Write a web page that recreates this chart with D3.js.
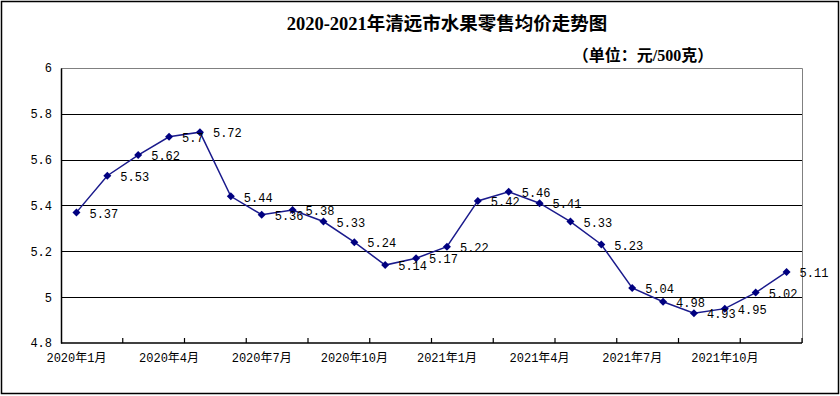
<!DOCTYPE html>
<html><head><meta charset="utf-8">
<script src="https://cdn.jsdelivr.net/npm/d3@7"></script>
<style>body{margin:0;background:#fff}svg{display:block}</style>
</head><body>
<script>
const titleText = "2020-2021年清远市水果零售均价走势图";
const unitText = "（单位：元/500克）";
const months = ["2020年1月","2020年2月","2020年3月","2020年4月","2020年5月","2020年6月","2020年7月","2020年8月","2020年9月","2020年10月","2020年11月","2020年12月",
"2021年1月","2021年2月","2021年3月","2021年4月","2021年5月","2021年6月","2021年7月","2021年8月","2021年9月","2021年10月","2021年11月","2021年12月"];
const prices = [5.37,5.53,5.62,5.7,5.72,5.44,5.36,5.38,5.33,5.24,5.14,5.17,5.22,5.42,5.46,5.41,5.33,5.23,5.04,4.98,4.93,4.95,5.02,5.11];
const priceLabels = ["5.37","5.53","5.62","5.7","5.72","5.44","5.36","5.38","5.33","5.24","5.14","5.17","5.22","5.42","5.46","5.41","5.33","5.23","5.04","4.98","4.93","4.95","5.02","5.11"];
const yTicks = [4.8,5,5.2,5.4,5.6,5.8,6];
const yTickLabels = ["4.8","5","5.2","5.4","5.6","5.8","6"];

const W=840,H=396;
const L=61,R=802,T=68,B=343;
const svg=d3.select("body").append("svg").attr("width",W).attr("height",H);
svg.append("rect").attr("x",1.5).attr("y",1.5).attr("width",W-3).attr("height",H-4)
  .attr("fill","#fff").attr("stroke","#000").attr("stroke-width",1.5);

const x=d3.scaleBand().domain(months).range([L,R]).paddingInner(0).paddingOuter(0);
const y=d3.scaleLinear().domain([4.8,6]).range([B,T]);
const mono="'Liberation Mono','DejaVu Sans Mono','Noto Sans CJK SC',monospace";

// plot border (grey) top & right
svg.append("path").attr("d",`M${L},${T+0.5}H${R+0.5}V${B}`).attr("fill","none").attr("stroke","#808080").attr("stroke-width",1);
// gridlines
svg.append("g").selectAll("line").data(yTicks.filter(v=>v>4.8&&v<6)).join("line")
  .attr("x1",L).attr("x2",R).attr("y1",d=>Math.round(y(d))+0.5).attr("y2",d=>Math.round(y(d))+0.5)
  .attr("stroke","#000").attr("stroke-width",1);

// y axis
const yAxis=d3.axisLeft(y).tickValues(yTicks).tickFormat((d,i)=>yTickLabels[i]).tickSize(0).tickPadding(9);
const gy=svg.append("g").attr("transform",`translate(${L},0)`).call(yAxis);
gy.select(".domain").attr("stroke","#000").attr("stroke-width",1.5);
gy.selectAll("text").attr("font-family",mono).attr("font-size",12).attr("fill","#000");

// x axis
const xAxis=d3.axisBottom(x).tickSize(0).tickPadding(10).tickFormat((d,i)=>i%3===0?d:"");
const gx=svg.append("g").attr("transform",`translate(0,${B})`).call(xAxis);
gx.select(".domain").attr("d",`M${L},0H${R}`).attr("stroke","#000").attr("stroke-width",1.5);
gx.selectAll("text").attr("font-family",mono).attr("font-size",12).attr("fill","#000");
// inward tick marks every 2 categories
const tickPos=months.filter((d,i)=>i%2===0).map(d=>x(d)).concat([R]).slice(1);
svg.append("g").selectAll("line").data(tickPos).join("line")
  .attr("x1",d=>d).attr("x2",d=>d).attr("y1",B).attr("y2",B-5).attr("stroke","#000").attr("stroke-width",1.2);

// line
const cx=d=>x(d)+x.bandwidth()/2;
svg.append("path").datum(prices).attr("fill","none").attr("stroke","#1a1a8c").attr("stroke-width",1.5)
  .attr("d",d3.line().x((d,i)=>cx(months[i])).y(d=>y(d)));
svg.append("g").selectAll("path").data(prices).join("path")
  .attr("d",d3.symbol(d3.symbolSquare,32))
  .attr("transform",(d,i)=>`translate(${cx(months[i])},${y(d)}) rotate(45)`).attr("fill","#000080");
// labels
svg.append("g").selectAll("text").data(prices).join("text")
  .attr("x",(d,i)=>cx(months[i])+13).attr("y",d=>y(d)+1).attr("dy","0.35em")
  .attr("font-family",mono).attr("font-size",12).attr("fill","#000")
  .text((d,i)=>priceLabels[i]);

// titles
svg.append("text").attr("x",447).attr("y",30).attr("text-anchor","middle")
  .attr("font-family","'Liberation Serif','Noto Sans CJK SC',serif").attr("font-weight","bold").attr("font-size",18.5).attr("fill","#000")
  .text(titleText);
svg.append("text").attr("x",643).attr("y",61).attr("text-anchor","middle")
  .attr("font-family","'Liberation Serif','Noto Sans CJK SC',serif").attr("font-weight","bold").attr("font-size",16).attr("fill","#000")
  .text(unitText);
</script>
</body></html>
